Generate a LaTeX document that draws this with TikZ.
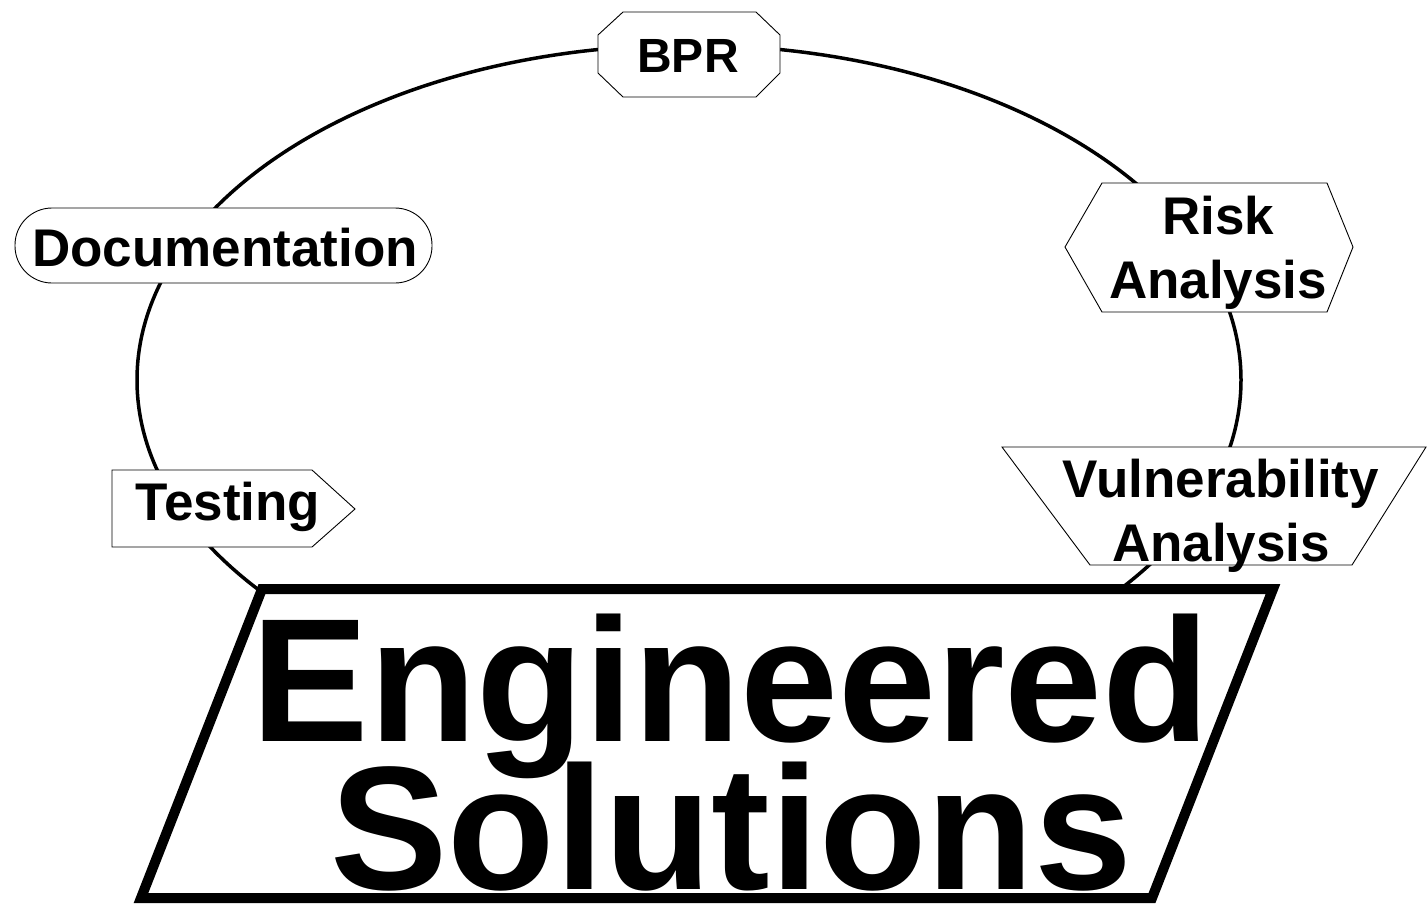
\documentclass[tikz,border=0pt]{standalone}
\usepackage{fontspec}
\setmainfont{Liberation Sans}
\newcommand{\tightlines}{\lineskiplimit=-1000pt\relax}
\begin{document}
\begin{tikzpicture}[x=1pt,y=-1pt,
  cycleline/.style={line width=3.5pt},
  tagshape/.style={draw=black,fill=white,line width=0.9pt},
  tagtext/.style={font={\fontsize{#1}{64}\selectfont\bfseries\tightlines},align=center,inner sep=0pt},
  tagtext/.default=53,
  bigtext/.style={font={\fontsize{176}{148}\selectfont\bfseries\tightlines},align=center,inner sep=0pt}]
\useasboundingbox (0,0) rectangle (1427,903);

% process cycle
\draw[cycleline] (689,380) ellipse [x radius=552, y radius=335];

% outlines of the stage labels
\path[tagshape] (598,35) -- (623,12) -- (756,12) -- (780,35) -- (780,73)
  -- (756,97) -- (623,97) -- (598,73) -- cycle;
\path[tagshape] (1065,247) -- (1102,183) -- (1327,183) -- (1353,247)
  -- (1327,312) -- (1102,312) -- cycle;
\path[tagshape] (1002,447) -- (1426,447) -- (1352,565) -- (1090,565) -- cycle;
\path[tagshape] (112,470) -- (312,470) -- (355,509) -- (312,547) -- (112,547) -- cycle;
\path[tagshape, rounded corners=37pt] (15,208) rectangle (432,283);

% stage labels (base anchor sits on the last line)
\node[tagtext=48, anchor=base] (bpr) at (688,72) {BPR};
\node[tagtext=53, anchor=base] (doc) at (225,266) {Documentation};
\node[tagtext=53, anchor=base] (test) at (228,520) {Testing};
\node[tagtext, anchor=base] (risk) at (1218,298) {Risk\\Analysis};
\node[tagtext, anchor=base] (vuln) at (1221,561) {Vulnerability\\Analysis};

% result box
\path[draw=black, fill=white, line width=10pt, line join=miter]
  (262,589) -- (1273,589) -- (1152,898) -- (141,898) -- cycle;
\node[bigtext, anchor=base] (result) at (731,889) {Engineered\\Solutions};
\end{tikzpicture}
\end{document}
